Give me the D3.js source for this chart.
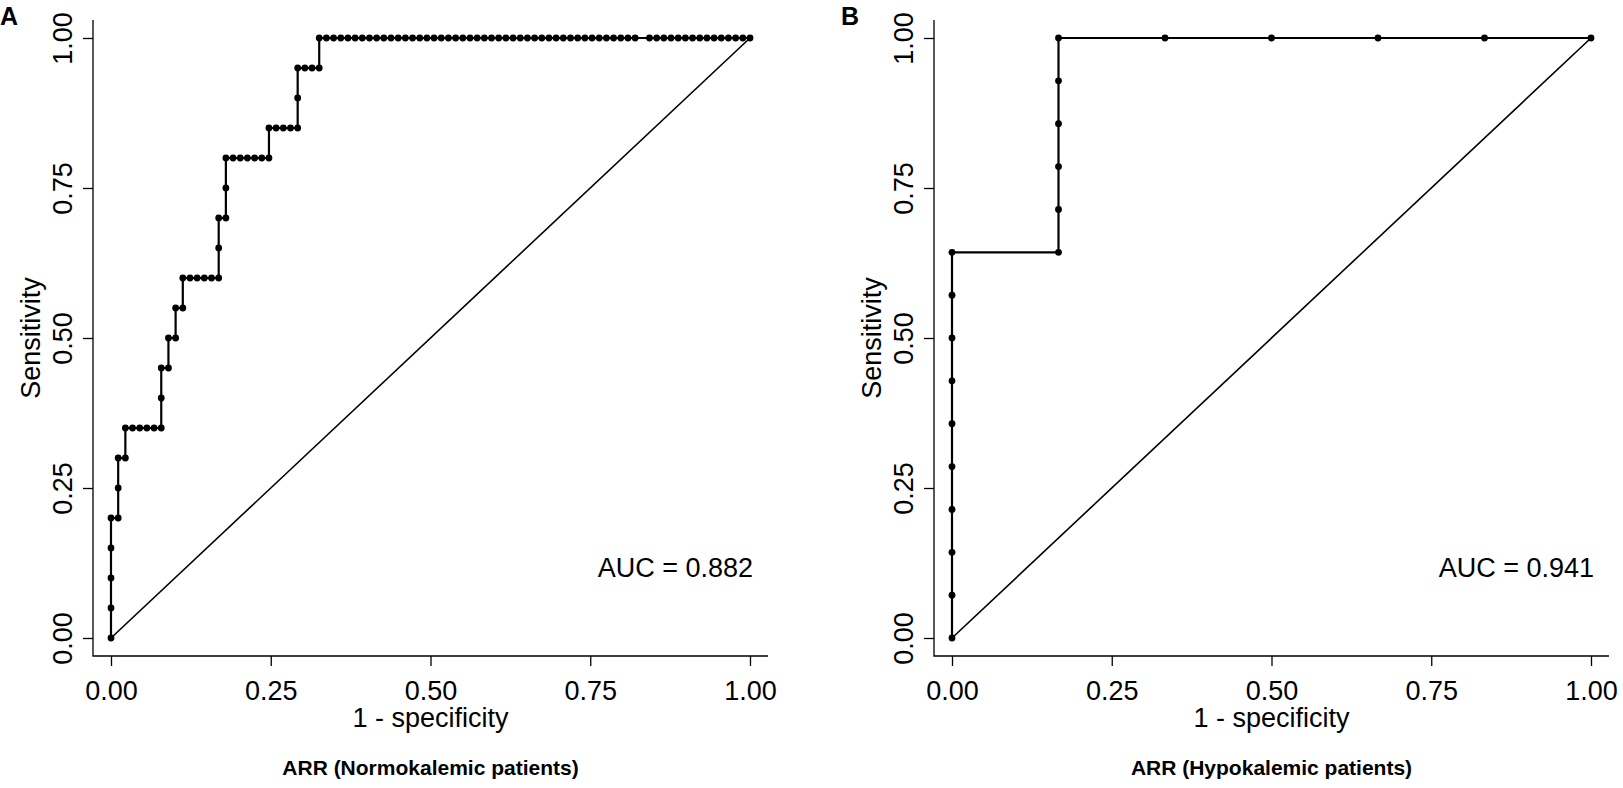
<!DOCTYPE html>
<html lang="en">
<head>
  <meta charset="UTF-8">
  <title>ROC curves</title>
  <script src="https://cdn.jsdelivr.net/npm/d3@7"></script>
  <style>
    body { margin: 0; background: #fff; }
    text { font-family: "Liberation Sans", Arial, sans-serif; fill: #000; }
    .axis path { display: none; }
    .axis line { stroke: #000; stroke-width: 1.3px; }
    .frame { stroke: #000; stroke-width: 1.3px; fill: none; }
    .diag { stroke: #000; stroke-width: 1.6px; fill: none; }
    .roc { stroke: #000; stroke-width: 2.2px; fill: none; }
  </style>
</head>
<body>
<div class="chart"></div>
<script>
  // ROC points as counts: false positives / true positives per threshold
  const fpA = [0, 0, 0, 0, 0, 1, 1, 1, 2, 2, 3, 4, 5, 6, 7, 7, 7, 8, 8, 9, 9, 10, 10,
    11, 12, 13, 14, 15, 15, 15, 16, 16, 16, 17, 18, 19, 20, 21, 22, 22, 23, 24, 25, 26,
    26, 26, 27, 28, 29, 29, 30, 31, 32, 33, 34, 35, 36, 37, 38, 39, 40, 41, 42, 43, 44,
    45, 46, 47, 48, 49, 50, 51, 52, 53, 54, 55, 56, 57, 58, 59, 60, 61, 62, 63, 64, 65,
    66, 67, 68, 69, 70, 71, 72, 73, 75, 76, 77, 78, 79, 80, 81, 82, 83, 84, 85, 86, 87, 88, 89];
  const tpA = [0, 1, 2, 3, 4, 4, 5, 6, 6, 7, 7, 7, 7, 7, 7, 8, 9, 9, 10, 10, 11, 11, 12,
    12, 12, 12, 12, 12, 13, 14, 14, 15, 16, 16, 16, 16, 16, 16, 16, 17, 17, 17, 17, 17,
    18, 19, 19, 19, 19, 20, 20, 20, 20, 20, 20, 20, 20, 20, 20, 20, 20, 20, 20, 20, 20,
    20, 20, 20, 20, 20, 20, 20, 20, 20, 20, 20, 20, 20, 20, 20, 20, 20, 20, 20, 20, 20,
    20, 20, 20, 20, 20, 20, 20, 20, 20, 20, 20, 20, 20, 20, 20, 20, 20, 20, 20, 20, 20, 20, 20];
  const negA = 89, posA = 20;

  const fpB = [0, 0, 0, 0, 0, 0, 0, 0, 0, 0, 1, 1, 1, 1, 1, 1, 2, 3, 4, 5, 6];
  const tpB = [0, 1, 2, 3, 4, 5, 6, 7, 8, 9, 9, 10, 11, 12, 13, 14, 14, 14, 14, 14, 14];
  const negB = 6, posB = 14;

  const panelTags = ['A', 'B'];
  const panelTitles = ['ARR (Normokalemic patients)', 'ARR (Hypokalemic patients)'];
  const aucLabels = ['AUC = 0.882', 'AUC = 0.941'];
  const tickVals = [0, 0.25, 0.5, 0.75, 1];

  const W = 1623, H = 788;
  const svg = d3.select('.chart').append('svg')
    .attr('width', W).attr('height', H);

  const panels = [
    { fp: fpA, tp: tpA, neg: negA, pos: posA, left: 111 },
    { fp: fpB, tp: tpB, neg: negB, pos: posB, left: 952 }
  ];
  const pw = 639, pad = 18;
  const yTop = 38, yBot = 638;

  panels.forEach((p, i) => {
    const g = svg.append('g');
    const x = d3.scaleLinear().domain([0, 1]).range([p.left, p.left + pw]);
    const y = d3.scaleLinear().domain([0, 1]).range([yBot, yTop]);

    // L-shaped frame (bty = "l")
    g.append('path').attr('class', 'frame')
      .attr('d', `M${x(0) - pad},${y(1) - pad}V${y(0) + pad}H${x(1) + pad}`);

    const xAxis = g.append('g').attr('class', 'axis')
      .attr('transform', `translate(0,${y(0) + pad})`)
      .call(d3.axisBottom(x).tickValues(tickVals).tickFormat(d3.format('.2f')).tickSize(10));
    xAxis.selectAll('text').attr('y', 44).attr('dy', 0).style('font-size', '27px');

    const yAxis = g.append('g').attr('class', 'axis')
      .attr('transform', `translate(${x(0) - pad},0)`)
      .call(d3.axisLeft(y).tickValues(tickVals).tickFormat(d3.format('.2f')).tickSize(10));
    yAxis.selectAll('text')
      .attr('x', 0).attr('y', 0).attr('dy', 0)
      .attr('transform', 'translate(-21,0) rotate(-90)')
      .attr('text-anchor', 'middle').style('font-size', '27px');

    // chance line
    g.append('line').attr('class', 'diag')
      .attr('x1', x(0)).attr('y1', y(0)).attr('x2', x(1)).attr('y2', y(1));

    const pts = p.fp.map((f, k) => [f / p.neg, p.tp[k] / p.pos]);
    const line = d3.line().x(d => x(d[0])).y(d => y(d[1]));
    g.append('path').attr('class', 'roc').attr('d', line(pts));
    g.selectAll('circle.pt').data(pts).enter().append('circle')
      .attr('class', 'pt')
      .attr('cx', d => x(d[0])).attr('cy', d => y(d[1]))
      .attr('r', 3.4).attr('fill', '#000');

    g.append('text')
      .attr('x', x(1) + 3).attr('y', 577)
      .attr('text-anchor', 'end').style('font-size', '27px')
      .text(aucLabels[i]);

    g.append('text')
      .attr('x', (x(0) + x(1)) / 2).attr('y', 727)
      .attr('text-anchor', 'middle').style('font-size', '27px')
      .text('1 - specificity');

    g.append('text')
      .attr('transform', `translate(${x(0) - 71},${(y(0) + y(1)) / 2}) rotate(-90)`)
      .attr('text-anchor', 'middle').style('font-size', '27px')
      .text('Sensitivity');

    g.append('text')
      .attr('x', (x(0) + x(1)) / 2).attr('y', 775)
      .attr('text-anchor', 'middle').style('font-size', '21px').style('font-weight', 'bold')
      .text(panelTitles[i]);

    g.append('text')
      .attr('x', x(0) - 111).attr('y', 25)
      .style('font-size', '25px').style('font-weight', 'bold')
      .text(panelTags[i]);
  });
</script>
</body>
</html>
